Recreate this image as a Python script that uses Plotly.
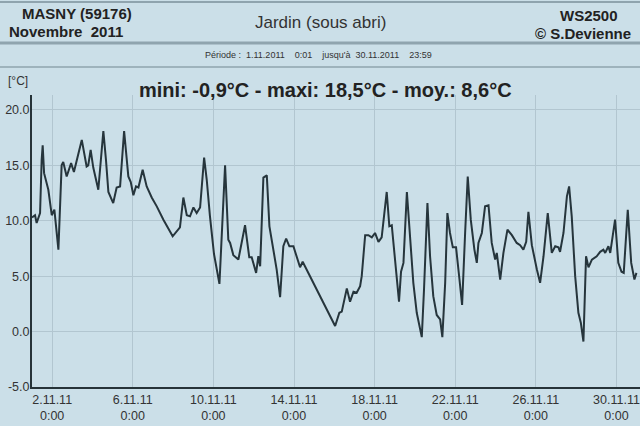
import numpy as np
import pandas as pd
import plotly.graph_objects as go

# Day of month (fractional, 1.0 = 1 Nov 0:00) and temperature (°C)
day = [1.00, 1.15, 1.23, 1.40, 1.48, 1.53, 1.60, 1.81, 1.98, 2.11, 2.31, 2.47, 2.55, 2.72, 2.94,
       3.08, 3.35, 3.47, 3.71, 3.79, 3.91, 4.04, 4.29, 4.54, 4.67, 4.79, 5.03, 5.20, 5.37, 5.57,
       5.78, 5.90, 6.03, 6.16, 6.28, 6.49, 6.69, 6.94, 7.19, 7.52, 7.98, 8.34, 8.51, 8.68, 8.84,
       9.01, 9.17, 9.34, 9.54, 9.67, 9.83, 10.03, 10.30, 10.58, 10.74, 10.83, 10.99, 11.24, 11.57,
       11.78, 11.90, 12.12, 12.23, 12.32, 12.48, 12.65, 12.78, 12.98, 13.14, 13.31, 13.47, 13.61,
       13.77, 13.97, 14.30, 14.43, 16.04, 16.25, 16.37, 16.62, 16.78, 16.95, 17.11, 17.28, 17.36,
       17.53, 17.69, 17.86, 18.02, 18.19, 18.35, 18.60, 18.73, 18.85, 19.01, 19.21, 19.31, 19.43,
       19.60, 19.76, 19.92, 20.09, 20.26, 20.34, 20.45, 20.62, 20.75, 20.91, 21.08, 21.25, 21.36,
       21.50, 21.61, 21.74, 21.88, 22.04, 22.21, 22.34, 22.49, 22.62, 22.77, 22.95, 23.07, 23.15,
       23.32, 23.48, 23.65, 23.81, 23.98, 24.06, 24.23, 24.39, 24.59, 24.81, 25.05, 25.22, 25.38,
       25.52, 25.63, 25.80, 26.05, 26.21, 26.38, 26.59, 26.79, 26.96, 27.12, 27.20, 27.37, 27.54,
       27.65, 27.78, 27.95, 28.11, 28.23, 28.36, 28.49, 28.61, 28.78, 29.02, 29.19, 29.35, 29.44,
       29.60, 29.69, 29.93, 30.09, 30.25, 30.36, 30.56, 30.73, 30.89, 30.99]
temp = [10.3, 10.5, 9.8, 10.7, 15.5, 16.8, 14.3, 12.8, 10.5, 11.0, 7.4, 15.0, 15.3, 14.0, 15.2,
        14.4, 16.4, 17.3, 14.9, 15.0, 16.4, 14.8, 12.8, 18.1, 15.5, 12.6, 11.6, 13.0, 13.1, 18.1,
        14.0, 13.5, 12.3, 13.1, 13.0, 14.6, 13.1, 12.1, 11.3, 10.1, 8.6, 9.4, 12.1, 10.5, 10.4,
        11.2, 10.7, 11.2, 15.7, 13.7, 10.4, 7.0, 4.3, 15.0, 8.3, 8.0, 6.9, 6.5, 9.6,
        6.7, 6.7, 5.3, 6.8, 5.9, 13.9, 14.1, 9.5, 7.4, 5.6, 3.1, 7.7, 8.4,
        7.7, 7.7, 5.8, 6.3, 0.5, 1.7, 1.8, 3.9, 2.7, 3.6, 3.5, 4.1, 5.0,
        8.7, 8.7, 8.5, 8.9, 8.1, 8.5, 12.6, 9.5, 9.6, 6.8, 2.7, 5.4, 6.2,
        12.6, 8.0, 4.4, 1.7, 0.4, -0.5, 3.8, 11.6, 6.8, 3.2, 1.5, 1.1, -0.5,
        4.4, 10.7, 8.9, 7.6, 7.6, 4.7, 2.4, 8.9, 14.0, 10.1, 7.4, 6.2, 8.0,
        8.9, 11.3, 11.4, 8.0, 6.5, 7.1, 4.7, 7.1, 9.2, 8.7, 8.0, 7.8, 7.4,
        8.1, 10.8, 7.8, 5.6, 4.4, 6.8, 10.7, 7.1, 7.7, 7.6, 7.2, 8.9, 12.2,
        13.1, 10.4, 5.0, 1.7, 0.8, -0.9, 6.8, 5.8, 6.5, 6.8, 7.2, 7.4, 7.1,
        7.7, 7.1, 10.1, 6.2, 5.4, 5.3, 11.0, 6.2, 4.7, 5.3]

tick_dates = ["2011-11-02", "2011-11-06", "2011-11-10", "2011-11-14",
              "2011-11-18", "2011-11-22", "2011-11-26", "2011-11-30"]
tick_labels = ["2.11.11<br>0:00", "6.11.11<br>0:00", "10.11.11<br>0:00", "14.11.11<br>0:00",
               "18.11.11<br>0:00", "22.11.11<br>0:00", "26.11.11<br>0:00", "30.11.11<br>0:00"]
y_ticks = [-5, 0, 5, 10, 15, 20]
y_labels = ["-5.0", "0.0", "5.0", "10.0", "15.0", "20.0"]

times = pd.Timestamp("2011-11-01") + pd.to_timedelta(np.array(day) - 1.0, unit="D")

BG = "#cbdfe8"
GRID = "#b2c6d0"
DARK = "#263338"
FONT = "Liberation Sans, Arial, sans-serif"

fig = go.Figure()
fig.add_trace(go.Scatter(x=times, y=temp, mode="lines",
                         line=dict(color="#26353c", width=2), hoverinfo="skip"))

fig.update_layout(
    width=640, height=426,
    margin=dict(l=32, r=0, t=95, b=39),
    paper_bgcolor=BG, plot_bgcolor=BG,
    showlegend=False,
    font=dict(family=FONT, color="#333333", size=12),
    xaxis=dict(range=["2011-11-01 00:00", "2011-12-01 04:00"],
               tickmode="array", tickvals=tick_dates, ticktext=tick_labels,
               showgrid=True, gridcolor=GRID, gridwidth=1,
               showline=True, linecolor=DARK, linewidth=2, automargin=False,
               ticks="", tickfont=dict(size=12.5, color="#333333"), zeroline=False),
    yaxis=dict(range=[-5.0, 21.35], tickmode="array", tickvals=y_ticks, ticktext=y_labels,
               showgrid=True, gridcolor=GRID, gridwidth=1,
               showline=True, linecolor=DARK, linewidth=2, automargin=False,
               ticks="", ticklabelstandoff=-2,
               tickfont=dict(size=12.5, color="#333333"), zeroline=False),
)

def px(xp):
    return (xp - 32) / 608.0

def py(yp):
    return (387 - yp) / 292.0

line_col = "#8fa4ae"
for yp, w in [(2, 2), (43, 3), (67, 1.5)]:
    fig.add_shape(type="line", xref="paper", yref="paper",
                  x0=px(0), x1=px(640), y0=py(yp), y1=py(yp),
                  line=dict(color=line_col, width=w))

ann = [
    ("MASNY (59176)", 20, 14, "left", 15, True),
    ("Novembre  2011", 7, 32, "left", 15, True),
    ("Jardin (sous abri)", 320, 23, "center", 17, False),
    ("WS2500", 620, 15, "right", 15, True),
    ("© S.Devienne", 633, 33, "right", 15, True),
    ("Période :  1.11.2011    0:01    jusqu'à  30.11.2011    23:59", 318, 55, "center", 9, False),
    ("[°C]", 6, 81, "left", 12, False),
    ("mini: -0,9°C - maxi: 18,5°C - moy.: 8,6°C", 325, 90, "center", 20, True),
]
for text, xp, yp, anchor, size, bold in ann:
    fig.add_annotation(text=("<b>%s</b>" % text) if bold else text,
                       xref="paper", yref="paper", x=px(xp), y=py(yp),
                       xanchor=anchor, yanchor="middle", showarrow=False,
                       font=dict(family=FONT, size=size, color="#222222" if bold else "#333333"))

fig.write_html("out.html", config={"displayModeBar": False},
               post_script="document.body.style.margin='0';document.body.style.background='%s';" % BG)
